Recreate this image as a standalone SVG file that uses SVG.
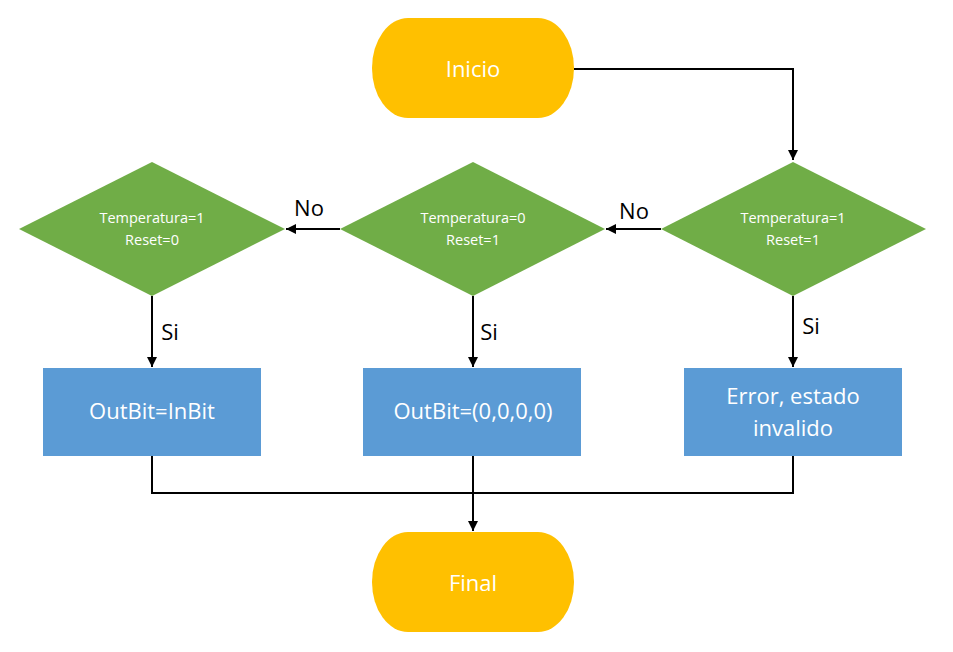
<svg xmlns="http://www.w3.org/2000/svg" width="953" height="652" viewBox="0 0 953 652">
<defs>
<marker id="arr" viewBox="0 0 10 10" refX="10" refY="5" markerWidth="10" markerHeight="10" markerUnits="userSpaceOnUse" orient="auto">
<path d="M0,0 L10,5 L0,10 z" fill="#000"/>
</marker>
<style>
.term{fill:#FFC000}
.dec{fill:#70AD47}
.proc{fill:#5B9BD5}
.t{font-family:"Open Sans","Noto Sans",sans-serif;fill:#fff;text-anchor:middle}
.big{font-size:22px}
.small{font-size:14.5px}
.lbl{font-family:"Open Sans","Noto Sans",sans-serif;font-size:22px;fill:#000;text-anchor:middle}
.c{fill:none;stroke:#000;stroke-width:2}
</style>
</defs>
<rect width="953" height="652" fill="#fff"/>
<g id="connectors">
<path class="c" d="M574,69 H793 V160" marker-end="url(#arr)"/>
<path class="c" d="M661,229 H606" marker-end="url(#arr)"/>
<path class="c" d="M340,229 H286" marker-end="url(#arr)"/>
<path class="c" d="M152,296 V367" marker-end="url(#arr)"/>
<path class="c" d="M473,296 V367" marker-end="url(#arr)"/>
<path class="c" d="M793,296 V367" marker-end="url(#arr)"/>
<path class="c" d="M152,456 V493 H793 V456"/>
<path class="c" d="M473,456 V531" marker-end="url(#arr)"/>
<text class="lbl" x="309" y="216">No</text>
<text class="lbl" x="634" y="219">No</text>
<text class="lbl" x="170" y="340">Si</text>
<text class="lbl" x="489" y="340">Si</text>
<text class="lbl" x="811" y="334">Si</text>
</g>
<g id="inicio">
<rect class="term" x="372" y="18" width="202" height="100" rx="36" ry="50"/>
<text class="t big" x="473" y="77">Inicio</text>
</g>
<g id="dec1">
<polygon class="dec" points="793,162 926,229 793,296 661,229"/>
<text class="t small" x="793" y="223">Temperatura=1</text>
<text class="t small" x="793" y="245">Reset=1</text>
</g>
<g id="dec2">
<polygon class="dec" points="473,162 605,229 473,296 340,229"/>
<text class="t small" x="473" y="223">Temperatura=0</text>
<text class="t small" x="473" y="245">Reset=1</text>
</g>
<g id="dec3">
<polygon class="dec" points="152,162 285,229 152,296 19,229"/>
<text class="t small" x="152" y="223">Temperatura=1</text>
<text class="t small" x="152" y="245">Reset=0</text>
</g>
<g id="proc1">
<rect class="proc" x="43" y="368" width="218" height="88"/>
<text class="t big" x="152" y="419">OutBit=InBit</text>
</g>
<g id="proc2">
<rect class="proc" x="363" y="368" width="218" height="88"/>
<text class="t big" x="473" y="419">OutBit=(0,0,0,0)</text>
</g>
<g id="proc3">
<rect class="proc" x="684" y="368" width="218" height="88"/>
<text class="t big" x="793" y="404">Error, estado</text>
<text class="t big" x="793" y="436">invalido</text>
</g>
<g id="final">
<rect class="term" x="372" y="532" width="202" height="100" rx="36" ry="50"/>
<text class="t big" x="473" y="591">Final</text>
</g>
</svg>
